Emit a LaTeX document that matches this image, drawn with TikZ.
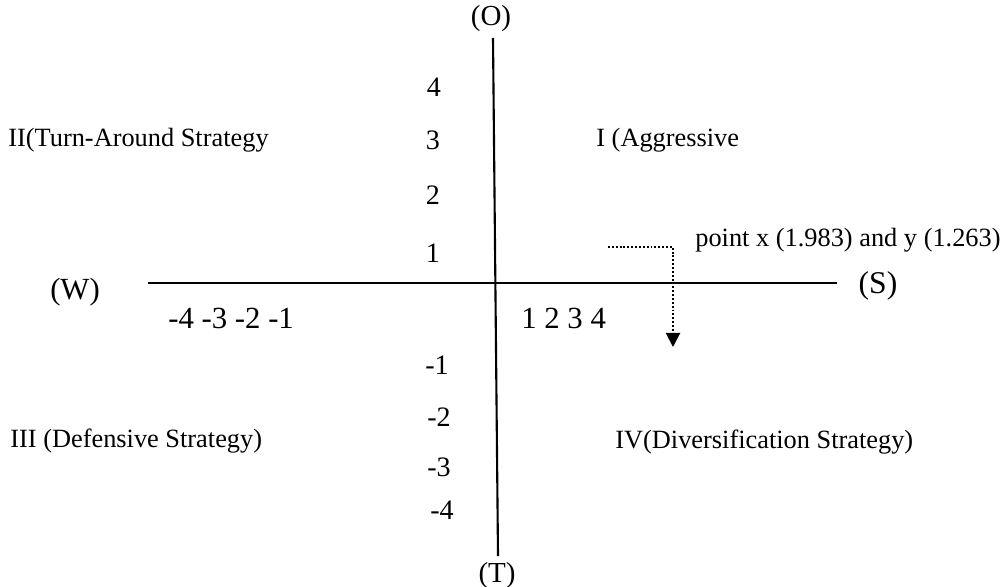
\documentclass[tikz,border=0pt]{standalone}
\usepackage{fontspec}
\setmainfont{Liberation Serif}
\usetikzlibrary{arrows.meta}
\tikzset{
  axisline/.style={line width=1.2pt,black},
  quadlabel/.style={anchor=base west,inner sep=0pt,
                    font=\fontsize{15}{18}\selectfont},
  pole/.style={anchor=base,inner sep=0pt,
               font=\fontsize{17.5}{21}\selectfont},
  ticklabel/.style={anchor=base,inner sep=0pt,
                    font=\fontsize{16}{19}\selectfont},
  pointer/.style={-{Triangle[length=8pt,width=8pt]},line width=1.1pt,
                  dash pattern=on 1.1pt off 1.1pt},
}
\begin{document}
\begin{tikzpicture}[x=0.02cm,y=-0.02cm]
    \useasboundingbox (0,0) rectangle (1006,587);

    % Axes
    \coordinate (otop) at (493,38);
    \coordinate (tbot) at (498,556);
    \coordinate (wend) at (148,283);
    \coordinate (send) at (837,283);
    \draw[axisline] (otop) -- (tbot);
    \draw[axisline] (wend) -- (send);

    % Poles
    \node[pole,font=\fontsize{16.5}{20}\selectfont] (opp) at (491,26) {(O)};
    \node[pole,font=\fontsize{16.5}{20}\selectfont] (thr) at (497,582) {(T)};
    \node[pole] (wea) at (75,299) {(W)};
    \node[pole,font=\fontsize{18}{21}\selectfont] (str) at (878,294) {(S)};

    % Scale of x
    \node[pole,anchor=base west] (xneg) at (168,328) {-4 -3 -2 -1};
    \node[pole,anchor=base west] (xpos) at (521,328) {1 2 3 4};

    % Scale of y
    \node[ticklabel] (y4) at (434,97) {4};
    \node[ticklabel] (y3) at (433,150) {3};
    \node[ticklabel] (y2) at (433,205) {2};
    \node[ticklabel] (y1) at (433,262) {1};
    \node[ticklabel] (ym1) at (437,374) {-1};
    \node[ticklabel] (ym2) at (439,426) {-2};
    \node[ticklabel] (ym3) at (439,476) {-3};
    \node[ticklabel] (ym4) at (442,519) {-4};

    % Quadrants
    \node[quadlabel] (q2) at (8,147) {II(Turn-Around Strategy};
    \node[quadlabel] (q1) at (596,147) {I (Aggressive};
    \node[quadlabel] (q3) at (10,447) {III (Defensive Strategy)};
    \node[quadlabel] (q4) at (615,448) {IV(Diversification Strategy)};

    % Point
    \node[quadlabel] (pt) at (695,247) {point x (1.983) and y (1.263)};
    \coordinate (ptstart) at (608,247);
    \coordinate (ptend) at (673,347);
    \draw[pointer] (ptstart) -| (ptend);

\end{tikzpicture}
\end{document}
